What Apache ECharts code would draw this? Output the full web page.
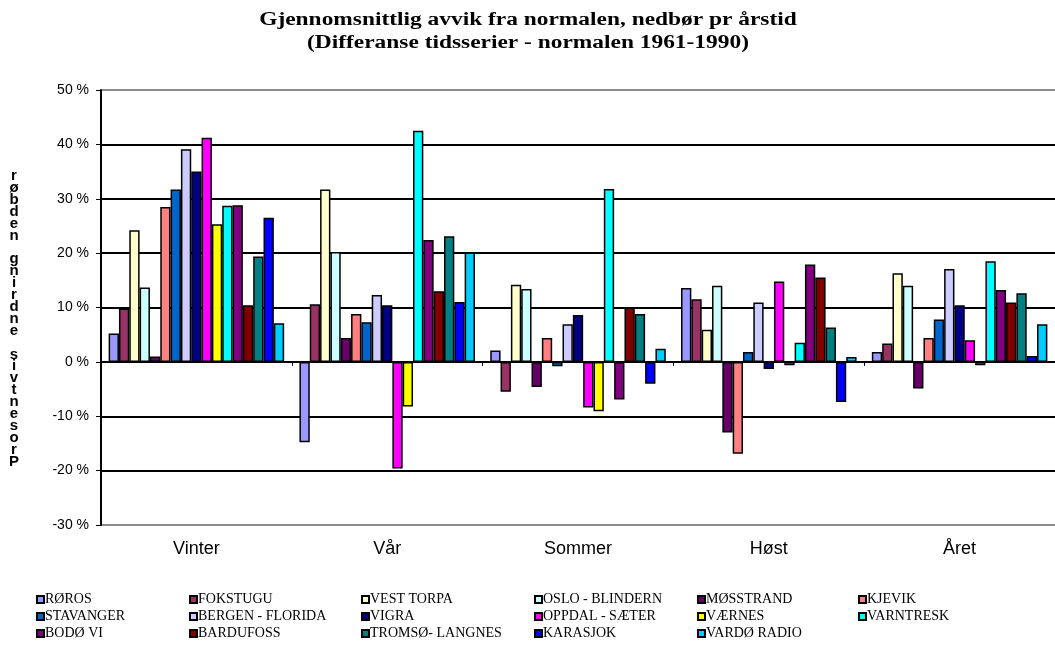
<!DOCTYPE html>
<html>
<head>
<meta charset="utf-8">
<script src="https://cdn.jsdelivr.net/npm/echarts@6/dist/echarts.min.js"></script>
<style>
html,body{margin:0;padding:0;background:#fff;}
#chart{width:1055px;height:653px;}
</style>
</head>
<body>
<div id="chart"></div>
<script>
'use strict';

// 季节
var seasons = ['Vinter', 'Vår', 'Sommer', 'Høst', 'Året'];
// 站点
var stations = ['RØROS', 'FOKSTUGU', 'VEST TORPA', 'OSLO - BLINDERN', 'MØSSTRAND', 'KJEVIK',
	'STAVANGER', 'BERGEN - FLORIDA', 'VIGRA', 'OPPDAL - SÆTER', 'VÆRNES', 'VARNTRESK',
	'BODØ VI', 'BARDUFOSS', 'TROMSØ- LANGNES', 'KARASJOK', 'VARDØ RADIO'];
var colors = ['#9999FF', '#993366', '#FFFFCC', '#CCFFFF', '#660066', '#FF8080',
	'#0066CC', '#CCCCFF', '#000080', '#FF00FF', '#FFFF00', '#00FFFF',
	'#800080', '#800000', '#008080', '#0000FF', '#00CCFF'];

// 每个季节的数值 (%), 顺序同 stations
var vinter = [5.2, 9.8, 24.2, 13.7, 1.0, 28.5, 31.7, 39.1, 35.0, 41.2, 25.3, 28.7, 28.8, 10.4, 19.4, 26.5, 7.1];
var vaar = [-14.8, 10.6, 31.7, 20.2, 4.4, 8.8, 7.3, 12.3, 10.4, -19.6, -8.2, 42.5, 22.4, 13.0, 23.1, 11.0, 20.1];
var sommer = [2.1, -5.5, 14.2, 13.4, -4.6, 4.4, -0.8, 6.9, 8.6, -8.4, -9.1, 31.8, -6.9, 10.0, 8.8, -4.0, 2.4];
var host = [13.6, 11.5, 5.9, 14.0, -13.0, -16.9, 1.8, 10.9, -1.3, 14.8, -0.6, 3.5, 17.9, 15.5, 6.3, -7.4, 0.9];
var aret = [1.8, 3.4, 16.3, 14.0, -4.9, 4.4, 7.8, 17.1, 10.4, 4.0, -0.6, 18.5, 13.2, 10.9, 12.6, 1.1, 6.9];

var yTicks = [-30, 50, 10]; // min, max, interval
var yTitle = 'røbden gnirdne sivtnesorP';
var titleLines = ['Gjennomsnittlig avvik fra normalen, nedbør pr årstid', '(Differanse tidsserier - normalen 1961-1990)'];

var myChart = echarts.init(document.getElementById('chart'));

var series = [];
for (var i = 0; i < stations.length; i++) {
	series.push({
		name: stations[i],
		type: 'bar',
		xAxisIndex: 0,
		barGap: '0%',
		barCategoryGap: '8%',
		itemStyle: {color: colors[i], borderColor: '#000', borderWidth: 1.5},
		emphasis: {disabled: true},
		data: [vinter[i], vaar[i], sommer[i], host[i], aret[i]]
	});
}

// 图例: 6 列, 每列 3 行
var legendX = [36, 189, 361, 534, 697, 858];
var legends = [];
for (var c = 0; c < 6; c++) {
	var names = [];
	for (var r = 0; r < 3; r++) {
		if (r * 6 + c < stations.length) names.push(stations[r * 6 + c]);
	}
	legends.push({
		data: names,
		orient: 'vertical',
		left: legendX[c],
		top: 591,
		padding: 0,
		itemWidth: 7,
		itemHeight: 7,
		itemGap: 0,
		icon: 'rect',
		selectedMode: false,
		textStyle: {fontFamily: 'Liberation Serif', fontSize: 14, color: '#000', lineHeight: 17, padding: [0, 0, 0, -4]}
	});
}

var option = {
	animation: false,
	legend: legends,
	grid: {left: 101, top: 90, width: 962, height: 435},
	xAxis: [
		{
			type: 'category',
			data: seasons,
			axisLine: {onZero: true, lineStyle: {color: '#000', width: 2}},
			axisTick: {show: true, length: 4, lineStyle: {color: '#000'}},
			axisLabel: {show: false}
		},
		{
			type: 'category',
			data: seasons,
			position: 'bottom',
			axisLine: {show: false, onZero: false},
			axisTick: {show: false},
			axisLabel: {fontFamily: 'Liberation Sans', fontSize: 18, color: '#000', margin: 15}
		}
	],
	yAxis: {
		type: 'value',
		min: yTicks[0],
		max: yTicks[1],
		interval: yTicks[2],
		axisLine: {show: true, lineStyle: {color: '#000', width: 2}},
		axisTick: {show: true, length: 5, lineStyle: {color: '#000'}},
		axisLabel: {formatter: '{value} %', fontFamily: 'Liberation Sans', fontSize: 14, color: '#000', margin: 12},
		splitLine: {
			lineStyle: {
				color: ['#8c8c8c', '#000', '#000', '#000', '#000', '#000', '#000', '#000', '#8c8c8c'],
				width: 2
			}
		}
	},
	graphic: [
		{
			// 标题 (横向拉伸)
			type: 'text',
			x: 528,
			y: 9,
			scaleX: 1.3,
			style: {
				text: titleLines.join('\n'),
				fontFamily: 'Liberation Serif',
				fontWeight: 'bold',
				fontSize: 18,
				lineHeight: 23,
				fill: '#000',
				align: 'center'
			}
		},
		{
			type: 'text',
			x: 14,
			y: 170,
			style: {
				text: yTitle.split('').join('\n'),
				fontFamily: 'Liberation Sans',
				fontWeight: 'bold',
				fontSize: 15,
				lineHeight: 11.9,
				fill: '#000',
				align: 'center'
			}
		}
	],
	series: series
};

myChart.setOption(option);
</script>
</body>
</html>
